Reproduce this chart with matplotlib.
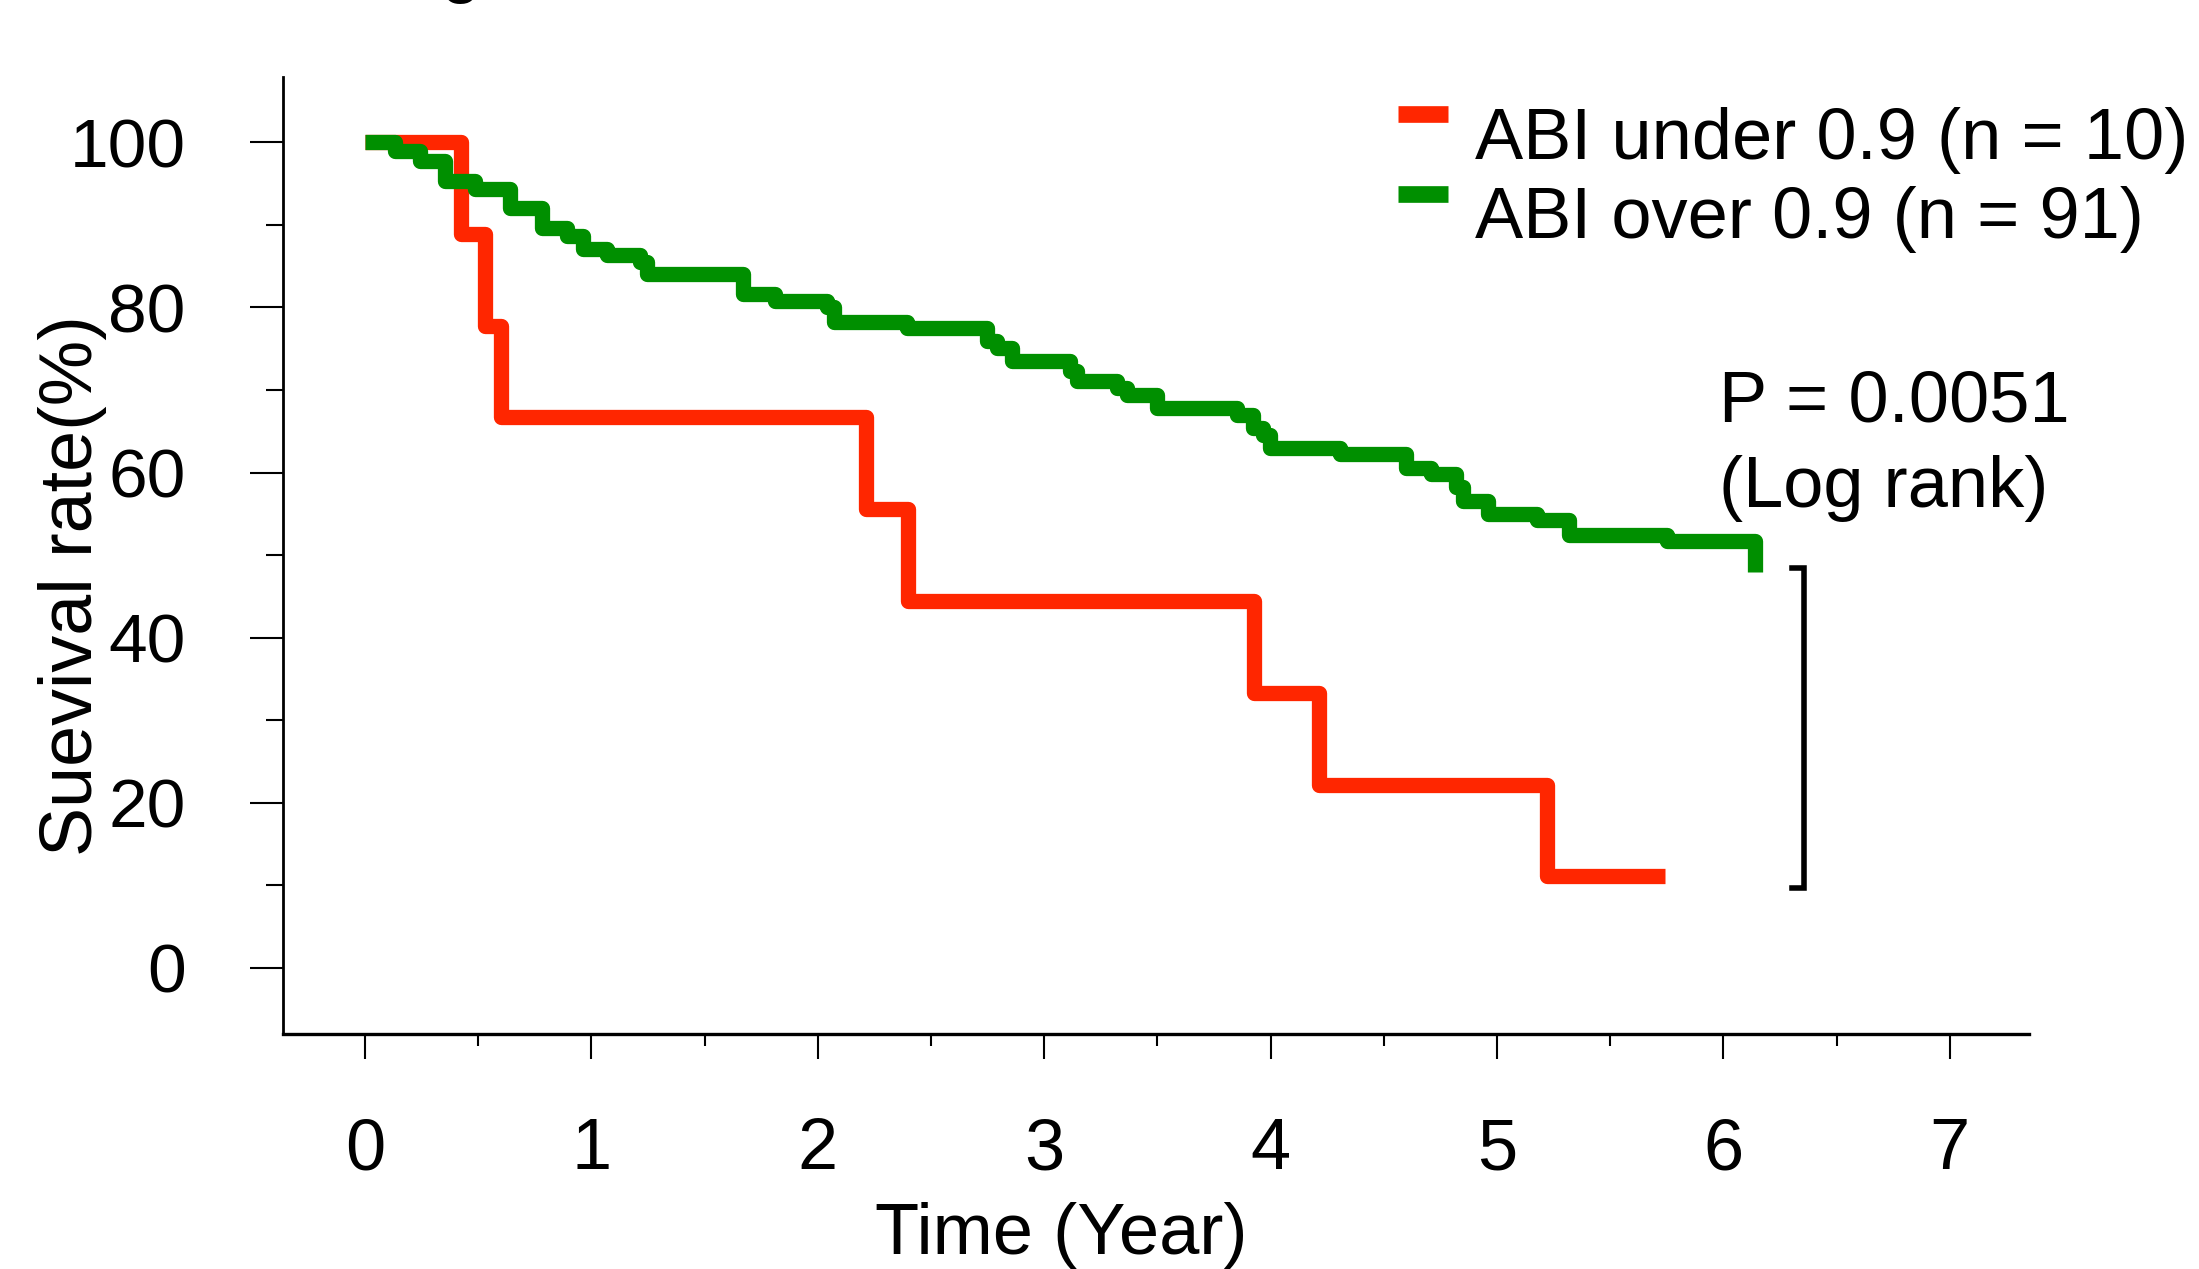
import numpy as np
import matplotlib.pyplot as plt
from matplotlib.ticker import MultipleLocator

plt.rcParams['font.family'] = ['Liberation Sans', 'DejaVu Sans']

# Kaplan-Meier curves (time in years, survival in %)
# last entry of each list is where the curve stops
under_time = [0, 0.424, 0.530, 0.599, 2.212, 2.398, 3.928, 4.213, 5.223, 5.743]
under_surv = [100, 88.9, 77.8, 66.7, 55.6, 44.4, 33.3, 22.2, 11.1, 11.1]

over_time = [0, 0.133, 0.243, 0.353, 0.486, 0.640, 0.780, 0.891, 0.964, 1.068,
             1.215, 1.244, 1.671, 1.811, 2.04, 2.07, 2.393, 2.746, 2.790, 2.856,
             3.114, 3.143, 3.320, 3.364, 3.497, 3.850, 3.924, 3.968, 3.997, 4.307,
             4.60, 4.71, 4.82, 4.85, 4.96, 5.175, 5.32, 5.75, 6.14]
over_surv = [100, 98.9, 97.7, 95.3, 94.4, 92.0, 89.6, 88.7, 87.1, 86.3,
             85.5, 84.0, 81.6, 80.8, 80.0, 78.3, 77.5, 76.0, 75.1, 73.5,
             72.3, 71.1, 70.3, 69.4, 67.8, 67.0, 65.4, 64.6, 63.0, 62.2,
             60.6, 59.8, 58.3, 56.6, 55.0, 54.2, 52.5, 51.7, 47.9]

labels = ["ABI under 0.9 (n = 10)", "ABI over 0.9 (n = 91)"]
colors = ["#FF2600", "#008F00"]
x_ticks = [0, 1, 2, 3, 4, 5, 6, 7]
y_ticks = [0, 20, 40, 60, 80, 100]
p_text = "P = 0.0051\n(Log rank)"

# bracket between the two curve ends
bracket_x = 6.355
bracket_top = 48.4
bracket_bottom = 9.7

fig = plt.figure(figsize=(21.99, 12.69), dpi=100)
ax = fig.add_axes([0.1287, 0.1852, 0.794, 0.754])

ax.step(under_time, under_surv, where='post', color=colors[0], lw=11,
        solid_joinstyle='round', solid_capstyle='butt', label=labels[0])
ax.step(over_time, over_surv, where='post', color=colors[1], lw=11,
        solid_joinstyle='round', solid_capstyle='butt', label=labels[1])

ax.plot([bracket_x - 0.05, bracket_x, bracket_x, bracket_x - 0.05],
        [bracket_top, bracket_top, bracket_bottom, bracket_bottom],
        color='black', lw=4, solid_joinstyle='miter')

ax.text(5.98, 55.8, p_text, fontsize=52, va='baseline', ha='left', linespacing=1.37)

ax.set_xlim(-0.362, 7.35)
ax.set_ylim(-8.0, 107.9)
ax.set_xticks(x_ticks)
ax.set_yticks(y_ticks)
ax.xaxis.set_minor_locator(MultipleLocator(0.5))
ax.yaxis.set_minor_locator(MultipleLocator(10))

for side in ['top', 'right']:
    ax.spines[side].set_visible(False)
ax.spines['left'].set_linewidth(2)
ax.spines['bottom'].set_linewidth(2.4)

ax.tick_params(axis='x', which='major', direction='out', length=18, width=1.5, pad=42, labelsize=52)
ax.tick_params(axis='x', which='minor', direction='out', length=8.6, width=1.5)
ax.tick_params(axis='y', which='major', direction='out', length=24, width=1.5, pad=46, labelsize=50)
ax.tick_params(axis='y', which='minor', direction='out', length=12, width=1.5)

ax.set_xlabel("Time (Year)", fontsize=52)
ax.set_ylabel("Suevival rate(%)", fontsize=53)
ax.xaxis.set_label_coords(0.446, -0.176)
ax.yaxis.set_label_coords(-0.1008, 0.469)

leg = ax.legend(loc='upper left', bbox_to_anchor=(1398 / 2199, 1 - 107 / 1269),
                bbox_transform=fig.transFigure, frameon=False, fontsize=52,
                handlelength=0.69, handletextpad=0.37, labelspacing=0.17,
                borderpad=0, borderaxespad=0)
# the swatches sit a bit above the text centre in the original
for h in leg.get_lines():
    h.set_linewidth(12)
    h.set_ydata([y + 14 for y in h.get_ydata()])

# bottom of the cut-off panel title
fig.text(461 / 2199, 1 + 11 / 1269, "g", fontsize=52, ha='center', va='baseline')

fig.savefig("out.png", dpi=100)
